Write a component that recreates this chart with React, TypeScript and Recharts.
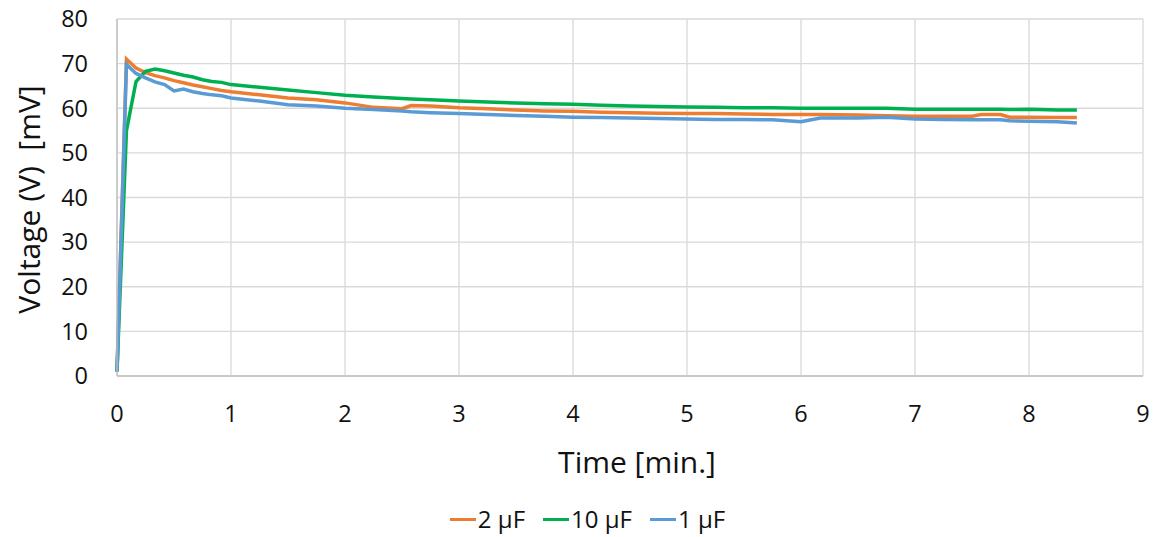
import { CartesianGrid, Legend, Line, LineChart, XAxis, YAxis } from 'recharts';

// sample times in minutes
const times = [
  0, 0.083, 0.167, 0.25, 0.333, 0.417, 0.5, 0.583, 0.667, 0.75, 0.833, 0.917, 1.0,
  1.25, 1.5, 1.75, 2.0, 2.25, 2.5, 2.58, 2.75, 3.0, 3.25, 3.5, 3.75, 4.0, 4.25, 4.5,
  4.75, 5.0, 5.25, 5.5, 5.75, 6.0, 6.17, 6.5, 6.75, 7.0, 7.25, 7.5, 7.58, 7.75, 7.83,
  8.0, 8.25, 8.42,
];

const cap2uF = [
  1, 71, 69, 68, 67.3, 66.8, 66.2, 65.7, 65.2, 64.8, 64.4, 64.0, 63.7,
  63.0, 62.3, 61.9, 61.2, 60.2, 59.9, 60.6, 60.5, 60.1, 59.9, 59.6, 59.4, 59.3, 59.1, 59.0,
  58.9, 58.8, 58.8, 58.7, 58.6, 58.6, 58.6, 58.5, 58.3, 58.2, 58.2, 58.2, 58.6, 58.6, 58.0,
  58.0, 57.9, 57.9,
];

const cap10uF = [
  1, 55, 66, 68.3, 68.8, 68.4, 67.9, 67.4, 67.0, 66.4, 66.0, 65.8, 65.3,
  64.7, 64.1, 63.5, 62.9, 62.5, 62.2, 62.1, 61.9, 61.6, 61.4, 61.2, 61.0, 60.9, 60.7, 60.5,
  60.4, 60.3, 60.2, 60.1, 60.1, 60.0, 60.0, 60.0, 60.0, 59.8, 59.8, 59.8, 59.8, 59.8, 59.7,
  59.8, 59.6, 59.6,
];

const cap1uF = [
  1, 69.8, 67.8, 66.8, 65.9, 65.3, 63.9, 64.3, 63.7, 63.3, 63.0, 62.8, 62.3,
  61.6, 60.8, 60.5, 60.0, 59.7, 59.4, 59.2, 59.0, 58.8, 58.6, 58.4, 58.2, 58.0, 57.9, 57.8,
  57.7, 57.6, 57.5, 57.5, 57.4, 57.0, 57.8, 57.8, 58.0, 57.6, 57.5, 57.4, 57.4, 57.4, 57.2,
  57.1, 57.0, 56.7,
];

const seriesNames = ['2 µF', '10 µF', '1 µF'];
const xTicks = [0, 1, 2, 3, 4, 5, 6, 7, 8, 9];
const yTicks = [0, 10, 20, 30, 40, 50, 60, 70, 80];

const data = times.map((t, i) => ({
  t,
  a: cap2uF[i],
  b: cap10uF[i],
  c: cap1uF[i],
}));

const FONT = '"Open Sans", sans-serif';
const TEXT = '#111';

const YLabel = ({ viewBox }: any) => {
  const cx = 28;
  const cy = viewBox.y + viewBox.height / 2 + 2;
  return (
    <text
      x={cx}
      y={cy}
      transform={`rotate(-90 ${cx} ${cy})`}
      textAnchor="middle"
      dominantBaseline="central"
      fontSize={30}
      fill={TEXT}
      style={{ whiteSpace: 'pre' }}
    >
      Voltage (V)  [mV]
    </text>
  );
};

const XLabel = ({ viewBox }: any) => (
  <text
    x={viewBox.x + viewBox.width / 2 + 7}
    y={473}
    textAnchor="middle"
    fontSize={30}
    fill={TEXT}
  >
    Time [min.]
  </text>
);

const LegendContent = ({ payload }: any) => {
  const items = [...(payload || [])].sort(
    (p: any, q: any) => seriesNames.indexOf(p.value) - seriesNames.indexOf(q.value),
  );
  return (
    <div
      style={{
        display: 'flex',
        justifyContent: 'center',
        paddingLeft: 34,
        fontSize: 24,
        lineHeight: '34px',
        height: 36,
        color: TEXT,
      }}
    >
      {items.map((p: any) => (
        <div key={p.value} style={{ display: 'flex', alignItems: 'center', marginRight: 18 }}>
          <span style={{ display: 'inline-block', width: 26, height: 3, background: p.color, marginRight: 2 }} />
          <span style={{ whiteSpace: 'nowrap' }}>{p.value}</span>
        </div>
      ))}
    </div>
  );
};

const App = () => (
  <div style={{ position: 'absolute', left: 0, top: 0, fontFamily: FONT }}>
    <LineChart width={1159} height={537} data={data} margin={{ top: 19, right: 16, left: 0, bottom: 0 }}>
      <CartesianGrid stroke="#d9d9d9" strokeWidth={1.3} />
      <XAxis
        dataKey="t"
        type="number"
        domain={[0, 9]}
        ticks={xTicks}
        height={125}
        tickSize={0}
        tickMargin={29}
        tick={{ fontSize: 23.5, fill: TEXT, fontFamily: FONT }}
        stroke="#bfbfbf"
        strokeWidth={1.3}
        label={<XLabel />}
      />
      <YAxis
        type="number"
        domain={[0, 80]}
        ticks={yTicks}
        width={117}
        tickSize={0}
        tickMargin={29}
        tick={{ fontSize: 23.5, fill: TEXT, fontFamily: FONT }}
        stroke="#bfbfbf"
        strokeWidth={1.3}
        label={<YLabel />}
      />
      <Legend
        verticalAlign="bottom"
        height={36}
        wrapperStyle={{ left: 0, width: 1159 }}
        content={<LegendContent />}
      />
      <Line dataKey="a" name={seriesNames[0]} stroke="#ED7D31" strokeWidth={3.5} dot={false} type="linear" isAnimationActive={false} />
      <Line dataKey="b" name={seriesNames[1]} stroke="#00B050" strokeWidth={3.5} dot={false} type="linear" isAnimationActive={false} />
      <Line dataKey="c" name={seriesNames[2]} stroke="#5B9BD5" strokeWidth={3.5} dot={false} type="linear" isAnimationActive={false} />
    </LineChart>
  </div>
);

export default App;
